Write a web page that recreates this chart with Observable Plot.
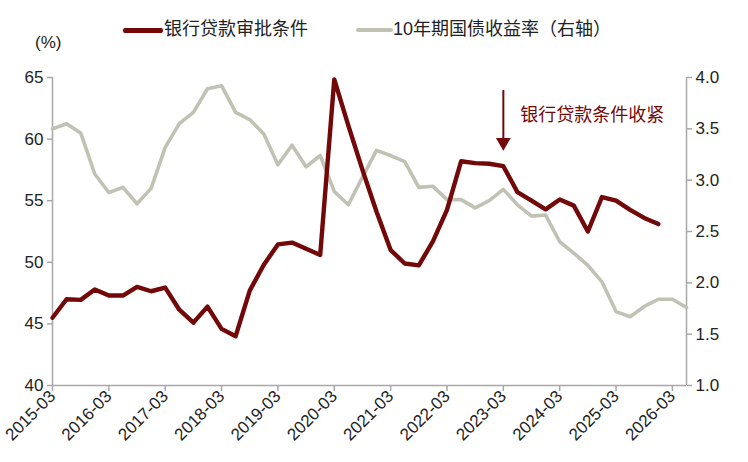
<!DOCTYPE html>
<html>
<head>
<meta charset="utf-8">
<script src="https://cdn.jsdelivr.net/npm/d3@7"></script>
<script src="https://cdn.jsdelivr.net/npm/@observablehq/plot@0.6"></script>
<style>
  html, body { margin: 0; padding: 0; background: #fff; }
  body { width: 748px; height: 462px; overflow: hidden; font-family: "Liberation Sans", "Noto Sans CJK SC", sans-serif; color: #222; }
  #head { position: relative; height: 52px; }
  .sw { position: absolute; height: 5px; border-radius: 2px; }
  .lt { position: absolute; font-size: 18px; line-height: 20px; top: 19px; font-family: "Liberation Sans", "Noto Sans CJK SC", sans-serif; }
  #unit { position: absolute; left: 35px; top: 33px; font-size: 17px; }
</style>
</head>
<body>
<div id="head">
  <div class="sw" style="left:123px; width:40px; top:28px; background:#720808;"></div>
  <div class="lt" style="left:164px;">银行贷款审批条件</div>
  <div class="sw" style="left:356px; width:37px; top:28px; height:4px; background:#C2C2B4;"></div>
  <div class="lt" style="left:393px;">10年期国债收益率（右轴）</div>
  <div id="unit">(%)</div>
</div>
<div id="chart"></div>
<script>
// Quarter-end month labels, 2015-03 .. 2026-06
const quarters = d3.utcMonth
  .range(new Date(Date.UTC(2015, 2, 1)), new Date(Date.UTC(2026, 7, 1)), 3)
  .map(d3.utcFormat("%Y-%m"));

// 银行贷款审批条件 (left axis, %)
const loanConditions = [
  45.5, 47.0, 46.95, 47.8, 47.3, 47.3, 48.0, 47.65, 47.95, 46.15,
  45.1, 46.4, 44.6, 44.0, 47.7, 49.8, 51.45, 51.6, 51.1, 50.6,
  64.85, 61.1, 57.5, 54.1, 51.0, 49.9, 49.75, 51.7, 54.25, 58.2,
  58.05, 58.0, 57.8, 55.7, 55.0, 54.3, 55.1, 54.6, 52.5, 55.3,
  55.0, 54.25, 53.6, 53.1
];

// 10年期国债收益率 (right axis, %)
const bondYield = [
  3.50, 3.55, 3.46, 3.06, 2.88, 2.93, 2.77, 2.92, 3.32, 3.55,
  3.66, 3.89, 3.92, 3.66, 3.59, 3.45, 3.15, 3.34, 3.13, 3.24,
  2.89, 2.76, 3.03, 3.29, 3.24, 3.18, 2.93, 2.94, 2.81, 2.81,
  2.73, 2.80, 2.91, 2.76, 2.65, 2.66, 2.40, 2.29, 2.17, 2.01,
  1.72, 1.67, 1.77, 1.84, 1.84, 1.76
];

const leftTicks = [40, 45, 50, 55, 60, 65];
const rightTicks = [1.0, 1.5, 2.0, 2.5, 3.0, 3.5, 4.0];
const xTickLabels = ["2015-03","2016-03","2017-03","2018-03","2019-03","2020-03","2021-03","2022-03","2023-03","2024-03","2025-03","2026-03"];

// annotation
const noteLabel = "银行贷款条件收紧";
const noteQuarter = "2023-03";
const arrowTop = 63.95, arrowTip = 59.3;
const noteTextX = 33.2, noteTextY = 61.9;

// right axis mapping onto left scale
const leftDomain = [40, 65], rightDomain = [1.0, 4.0];
const toLeft = v => leftDomain[0] + (v - rightDomain[0]) * (leftDomain[1] - leftDomain[0]) / (rightDomain[1] - rightDomain[0]);

const red = "#720808", gray = "#C2C2B4", axisColor = "#A8A8A8";

const loanData = loanConditions.map((v, i) => ({i, v}));
const yieldData = bondYield.map((v, i) => ({i, v: toLeft(v)}));
const xTicks = xTickLabels.map(s => quarters.indexOf(s));
const noteIdx = quarters.indexOf(noteQuarter);

const chart = Plot.plot({
  width: 748,
  height: 410,
  marginLeft: 52,
  marginRight: 62,
  marginTop: 25,
  marginBottom: 77,
  style: {fontFamily: "'Liberation Sans', 'Noto Sans CJK SC', sans-serif", fontSize: "17px", color: "#222", background: "#fff"},
  x: {domain: [0, quarters.length - 1]},
  y: {domain: leftDomain},
  marks: [
    Plot.ruleX([0, quarters.length - 1], {y1: leftDomain[0], y2: leftDomain[1], stroke: axisColor, strokeWidth: 1.5}),
    Plot.ruleY([leftDomain[0]], {stroke: axisColor, strokeWidth: 1.5}),
    Plot.axisY({ticks: leftTicks, tickSize: 5, tickPadding: 4, stroke: axisColor, strokeWidth: 1.5, fontSize: 17, fill: "#222", label: null}),
    Plot.axisY({anchor: "right", ticks: rightTicks.map(toLeft), tickSize: 5, tickPadding: 4, stroke: axisColor, strokeWidth: 1.5, fontSize: 17, fill: "#222", label: null,
      tickFormat: d => rightTicks[rightTicks.map(toLeft).findIndex(t => Math.abs(t - d) < 1e-6)].toFixed(1)}),
    Plot.axisX({ticks: xTicks, tickSize: 6, tickRotate: -45, tickPadding: 2, stroke: axisColor, strokeWidth: 1.5, fontSize: 17, fill: "#222", label: null,
      tickFormat: d => quarters[d]}),
    Plot.line(yieldData, {x: "i", y: "v", stroke: gray, strokeWidth: 3.6, strokeLinejoin: "round"}),
    Plot.line(loanData, {x: "i", y: "v", stroke: red, strokeWidth: 4.4, strokeLinejoin: "round"}),
    Plot.ruleX([noteIdx], {y1: arrowTop, y2: arrowTip + 0.6, stroke: red, strokeWidth: 2}),
    Plot.dot([noteIdx], {x: d => d, y: arrowTip + 0.45, symbol: "triangle", rotate: 180, r: 5.5, fill: red, stroke: "none"}),
    Plot.text([noteLabel], {x: noteTextX, y: noteTextY, text: d => d, textAnchor: "start", fill: red, fontSize: 18, fontFamily: "'Noto Sans CJK SC', sans-serif"})
  ]
});
document.getElementById("chart").appendChild(chart);
</script>
</body>
</html>
